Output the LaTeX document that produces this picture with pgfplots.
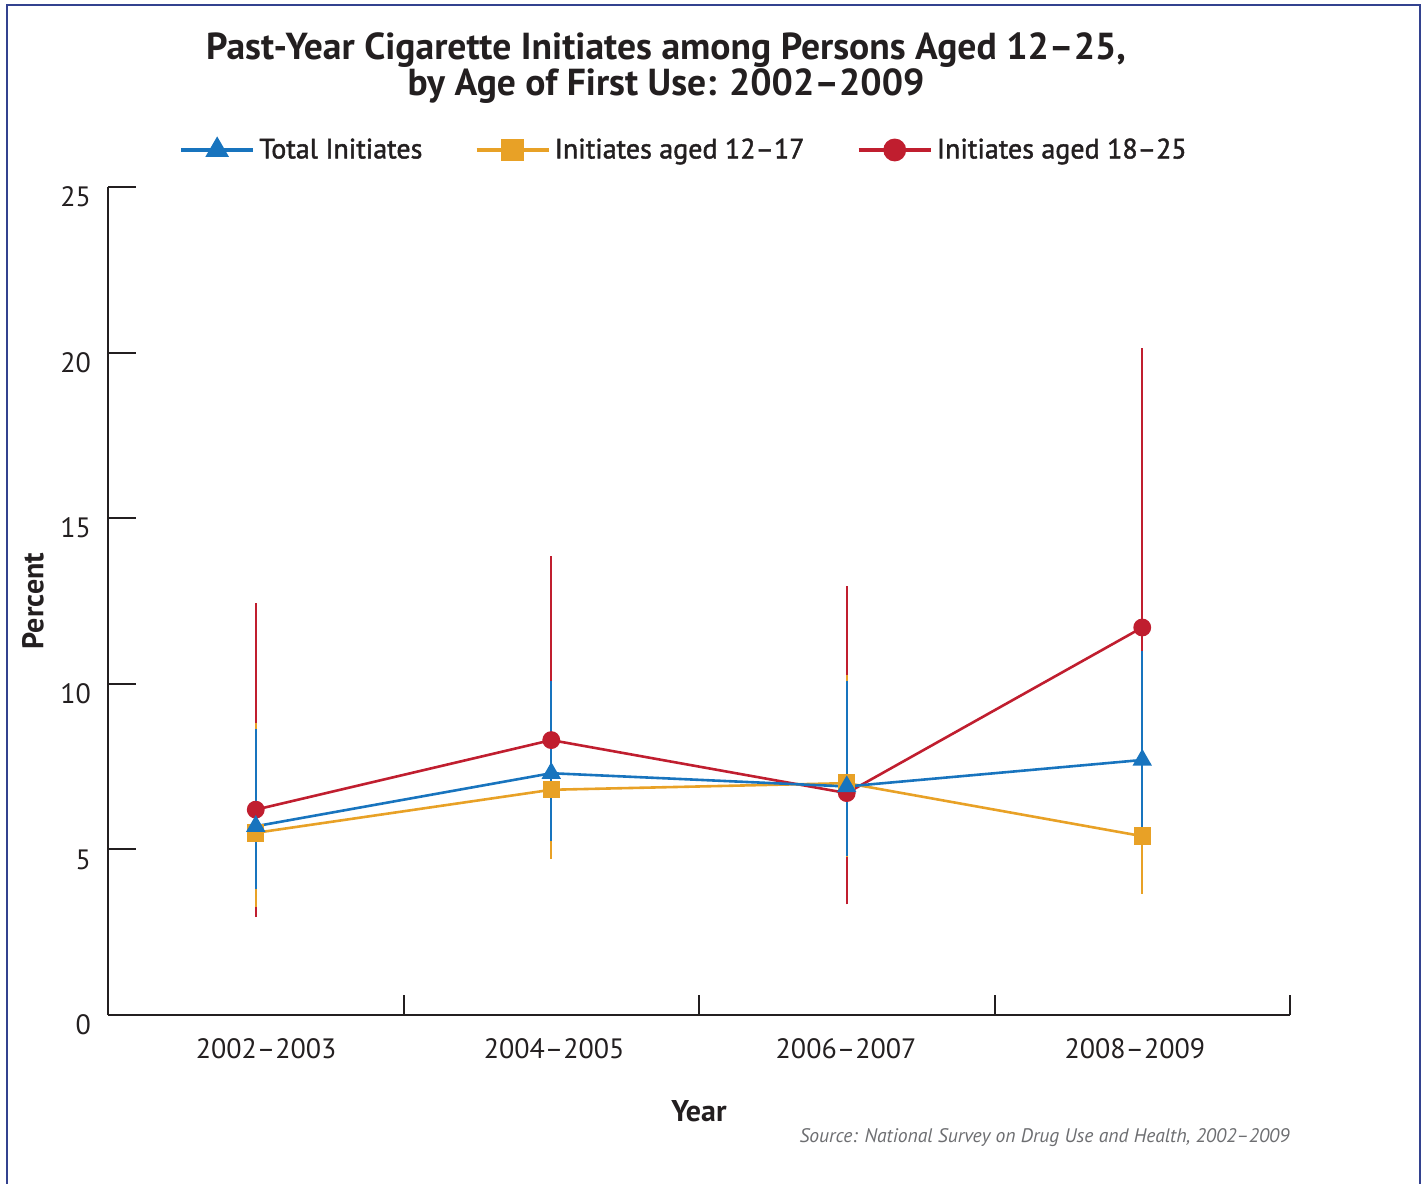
\documentclass[border=0pt]{standalone}
\usepackage{pgfplots}
\pgfplotsset{compat=1.18}
\usepackage{fontspec}
\setmainfont{PT Sans}
\newfontfamily\semib{PT Sans}[Ligatures=TeX, FakeBold=1.6]
\definecolor{cblue}{HTML}{1874BE}
\definecolor{corange}{HTML}{E8A126}
\definecolor{cred}{HTML}{C01E2F}
\definecolor{axblack}{HTML}{231F20}
\definecolor{frame}{HTML}{33428F}
\definecolor{srcgray}{HTML}{6D6E71}
\begin{document}
\begin{tikzpicture}[x=1pt,y=1pt]
\useasboundingbox (0,0) rectangle (713,592);
\draw[color=frame, line width=0.8pt] (3.5,-2) -- (3.5,589.5) -- (710,589.5) -- (710,-2);
\node[align=center, font=\fontsize{18.8}{16}\selectfont\bfseries, text=axblack] at (333,558)
  {Past-Year Cigarette Initiates among Persons Aged 12--25,\\ by Age of First Use: 2002--2009};
\node[anchor=east, font=\fontsize{9.8}{11}\selectfont\itshape, text=srcgray, inner sep=0pt] at (645,23)
  {Source: National Survey on Drug Use and Health, 2002--2009};
\begin{axis}[
  at={(54pt,84.5pt)}, anchor=south west,
  scale only axis, width=591pt, height=414pt,
  xmin=-0.5, xmax=3.5, ymin=0, ymax=25,
  axis lines*=left,
  axis line style={-, line width=1pt, color=axblack},
  tick align=inside,
  major tick length=14pt,
  ytick={0,5,10,15,20,25},
  yticklabels={0,5,10,15,20,25},
  ytick style={line width=1pt, color=axblack},
  yticklabel style={font=\fontsize{14}{14}\selectfont, text=axblack, xshift=-5pt, yshift=-5pt},
  xtick={0.035,1.01,1.9975,2.975},
  xticklabels={2002--2003,2004--2005,2006--2007,2008--2009},
  xtick style={draw=none},
  xticklabel style={font=\fontsize{14}{14}\selectfont, text=axblack, yshift=-8pt},
  extra x ticks={0.5,1.5,2.5,3.5},
  extra x tick labels={},
  extra x tick style={major tick length=10pt, xtick style={draw=axblack, line width=1pt}},
  xlabel={Year}, ylabel={Percent},
  xlabel style={font=\fontsize{15}{15}\selectfont\bfseries, text=axblack, at={(axis description cs:0.5,-0.116)}, anchor=center},
  ylabel style={font=\fontsize{15}{15}\selectfont\bfseries, text=axblack, at={(axis description cs:-0.0635,0.5)}, anchor=center},
  clip=false,
  legend columns=3,
  legend style={at={(axis description cs:0.488,1.0447)}, anchor=center, draw=none, fill=none,
    font=\fontsize{14}{14}\semib, text=axblack,
    /tikz/every even column/.append style={column sep=24pt}},
  legend image code/.code={
    \draw[#1, line width=2.2pt, mark size=4.6pt, mark repeat=2, mark phase=2] plot coordinates {(0pt,0pt) (18pt,0pt) (36pt,0pt)};
  },
  reverse legend,
]
% error bars
\addplot[cred, only marks, mark=none, forget plot,
  error bars/.cd, y dir=both, y explicit,
  error bar style={line width=1pt, cred},
  error mark options={cred, mark size=1.6pt, line width=1pt}]
  coordinates {
  (0,6.2) += (0,6.13) -= (0,3.15)
  (1,8.3) += (0,5.46) -= (0,3.32)
  (2,6.7) += (0,6.15) -= (0,3.26)
  (3,11.7) += (0,8.33) -= (0,5.05)
  };
\addplot[corange, only marks, mark=none, forget plot,
  error bars/.cd, y dir=both, y explicit,
  error bar style={line width=1pt, corange},
  error mark options={corange, mark size=1.6pt, line width=1pt}]
  coordinates {
  (0,5.5) += (0,3.23) -= (0,2.13)
  (1,6.8) += (0,3.01) -= (0,1.99)
  (2,7.0) += (0,3.17) -= (0,2.14)
  (3,5.4) += (0,2.8) -= (0,1.65)
  };
\addplot[cblue, only marks, mark=none, forget plot,
  error bars/.cd, y dir=both, y explicit,
  error bar style={line width=1pt, cblue},
  error mark options={cblue, mark size=1.6pt, line width=1pt}]
  coordinates {
  (0,5.7) += (0,2.85) -= (0,1.8)
  (1,7.3) += (0,2.69) -= (0,1.95)
  (2,6.9) += (0,3.1) -= (0,2.0)
  (3,7.7) += (0,3.2) -= (0,2.25)
  };
% lines
\addplot[cred, line width=1.3pt, mark=*, mark size=3.8pt, mark options={solid, fill=cred, draw=cred}]
  coordinates {(0,6.2) (1,8.3) (2,6.7) (3,11.7)};
\addlegendentry{Initiates aged 18--25}
\addplot[corange, line width=1.3pt, mark=square*, mark size=3.7pt, mark options={solid, fill=corange, draw=corange}]
  coordinates {(0,5.5) (1,6.8) (2,7.0) (3,5.4)};
\addlegendentry{Initiates aged 12--17}
\addplot[cblue, line width=1.3pt, mark=triangle*, mark size=4.3pt, mark options={solid, fill=cblue, draw=cblue}]
  coordinates {(0,5.7) (1,7.3) (2,6.9) (3,7.7)};
\addlegendentry{Total Initiates}
\end{axis}
\end{tikzpicture}
\end{document}
